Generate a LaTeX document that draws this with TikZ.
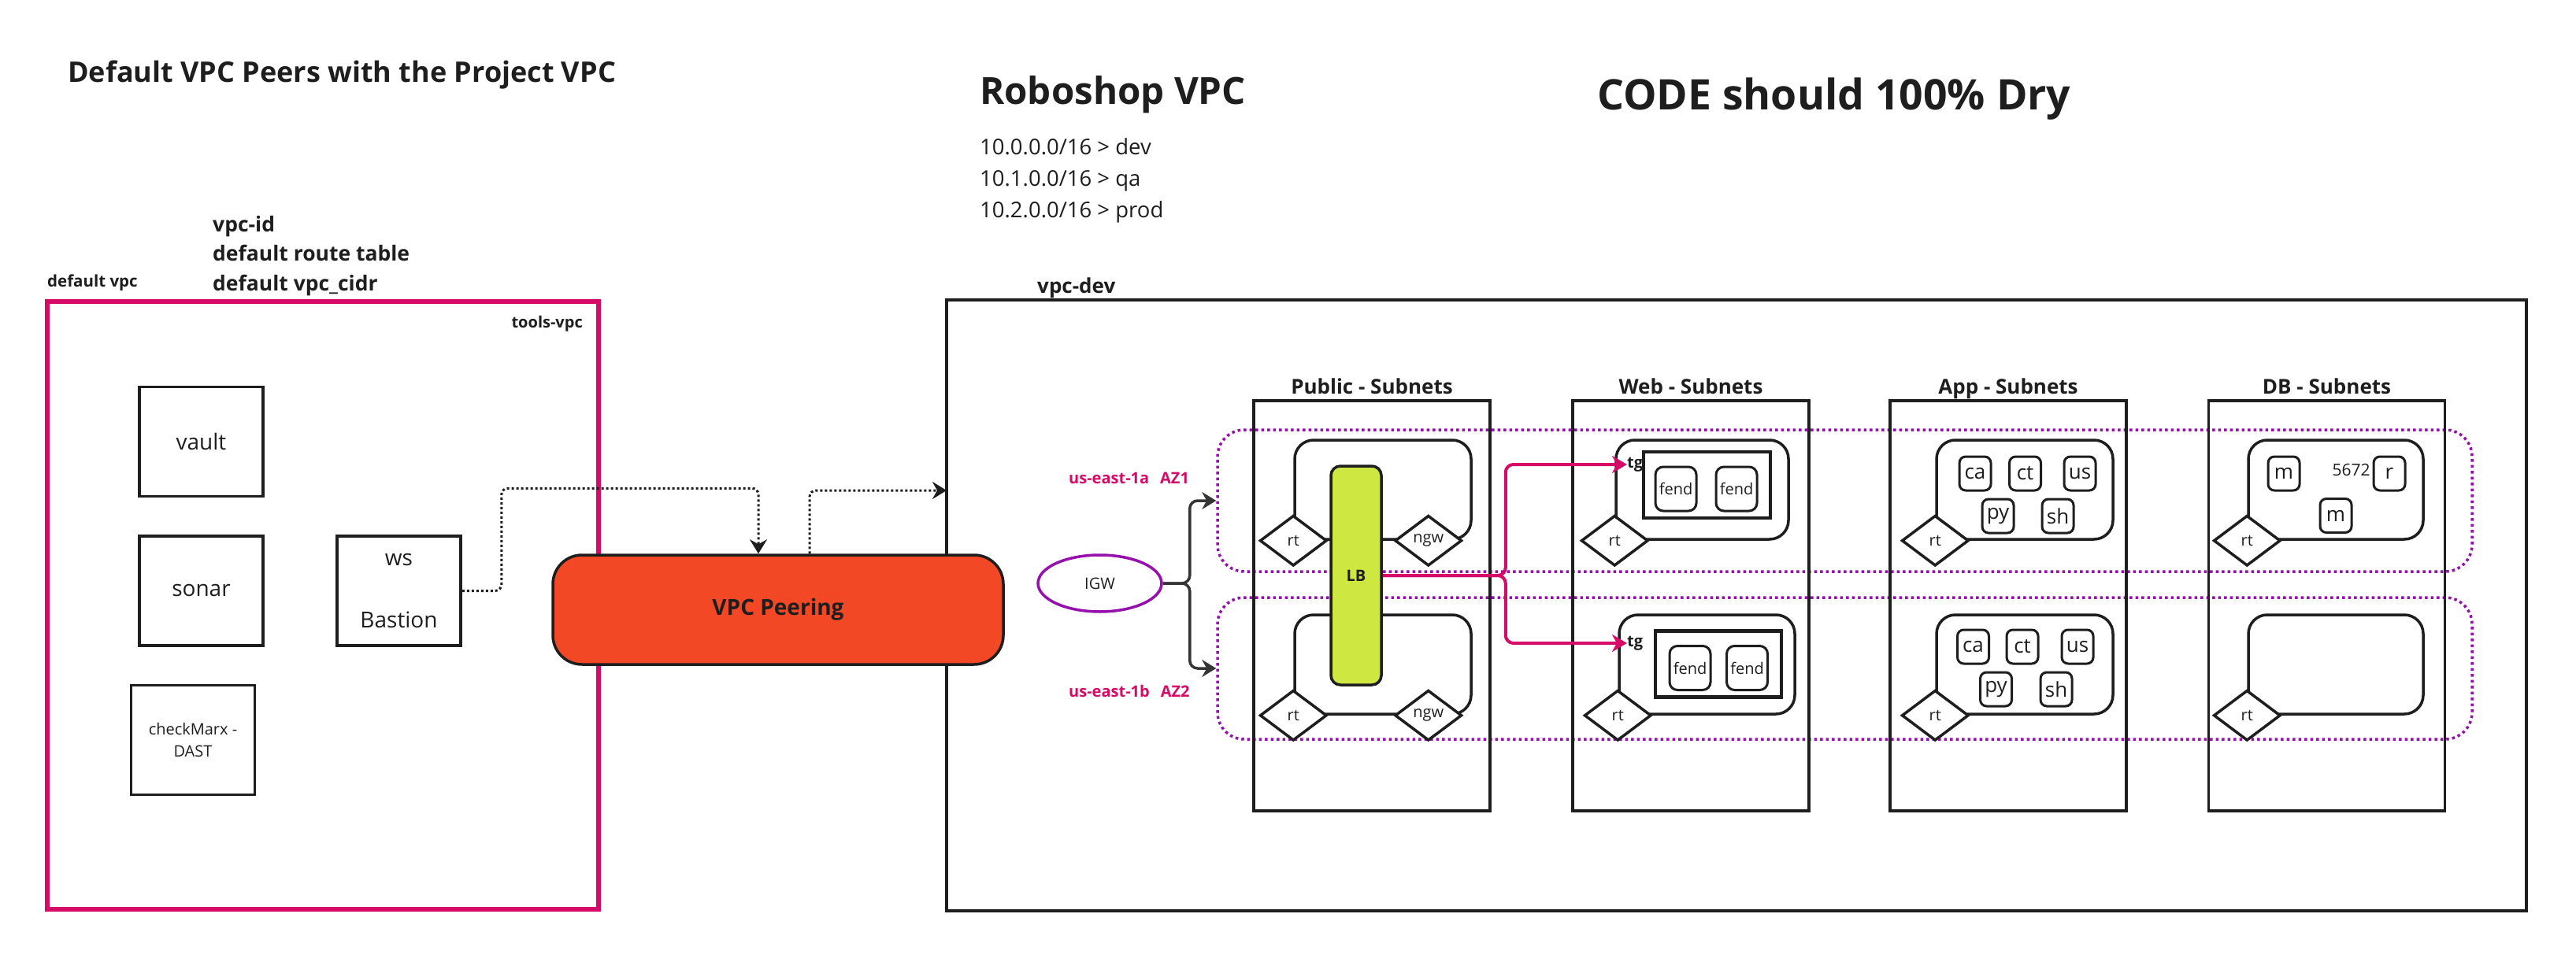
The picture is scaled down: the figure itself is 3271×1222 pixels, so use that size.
\documentclass[tikz,border=0pt]{standalone}
\usepackage{fontspec}
\setmainfont{Open Sans}
\usepackage{tikz}
\usetikzlibrary{shapes,arrows.meta,positioning}
\definecolor{rosa}{RGB}{214,11,104}
\definecolor{naranja}{RGB}{242,72,38}
\definecolor{lima}{RGB}{206,231,65}
\definecolor{violeta}{RGB}{149,16,172}
\definecolor{tinta}{RGB}{30,30,30}
\newcommand{\letra}[2]{\fontsize{#1}{#2}\selectfont}
\tikzstyle{etiqueta} = [inner sep=0pt, anchor=base west]
\tikzstyle{caja} = [draw=tinta, line width=3.5pt, minimum width=157pt, minimum height=139pt, align=center, font=\letra{28}{38}]
\tikzstyle{subred} = [draw=tinta, line width=3.5pt, minimum width=300pt, minimum height=521pt]
\tikzstyle{titulo} = [inner sep=0pt, anchor=base, font=\bfseries\letra{26}{30}]
\tikzstyle{zona} = [draw=violeta, line width=3.5pt, rounded corners=34pt, dash pattern=on 3.5pt off 4pt, minimum width=1593pt, minimum height=180pt]
\tikzstyle{grupo} = [draw=tinta, line width=3.5pt, rounded corners=24pt, minimum width=224pt, minimum height=126pt]
\tikzstyle{ruta} = [diamond, draw=tinta, fill=white, line width=3.5pt, minimum width=85pt, minimum height=64pt, inner sep=0pt, font=\letra{20}{24}]
\tikzstyle{micro} = [draw=tinta, fill=white, line width=3pt, rounded corners=8pt, minimum width=40pt, minimum height=43pt, inner sep=0pt, font=\letra{26}{30}]
\tikzstyle{servicio} = [draw=tinta, line width=3pt, rounded corners=10pt, minimum width=52pt, minimum height=56pt, inner sep=0pt, font=\letra{20}{24}]
\tikzstyle{tgcaja} = [draw=tinta, line width=4.5pt, minimum width=161pt, minimum height=84pt]
\tikzstyle{zonatexto} = [inner sep=0pt, anchor=base west, text=rosa, font=\bfseries\letra{20}{24}]
\tikzstyle{punteado} = [draw=tinta, line width=3pt, dash pattern=on 3pt off 3pt, rounded corners=8pt, -{Stealth[length=18pt,width=22pt,inset=6pt]}]
\tikzstyle{flecha} = [draw=tinta!90, line width=3.5pt, rounded corners=10pt, -{Stealth[length=18pt,width=22pt,inset=6pt]}]
\tikzstyle{rosaflecha} = [draw=rosa, line width=4pt, rounded corners=10pt, -{Stealth[length=19pt,width=22pt,inset=6pt]}]

\begin{document}
\begin{tikzpicture}[x=1pt, y=-1pt, tinta]
	\fill[white] (0,0) rectangle (3271,1222);
	\useasboundingbox (0,0) rectangle (3271,1222);

	\node[etiqueta, font=\bfseries\letra{36}{40}] (titulo) at (86,105) {Default VPC Peers with the Project VPC};
	\node[etiqueta, font=\bfseries\letra{26.5}{30}] (dato1) at (270,295) {vpc-id};
	\node[etiqueta, font=\bfseries\letra{26.5}{30}] (dato2) at (270,332) {default route table};
	\node[etiqueta, font=\bfseries\letra{26.5}{30}] (dato3) at (270,370) {default vpc\_cidr};
	\node[etiqueta, font=\bfseries\letra{20.5}{24}] (defecto) at (60,365) {default vpc};

	\node[etiqueta, font=\bfseries\letra{47.5}{52}] (roboshop) at (1244,133) {Roboshop VPC};
	\node[etiqueta, font=\bfseries\letra{53.5}{58}] (lema) at (2028,140) {CODE should 100\% Dry};
	\node[etiqueta, font=\letra{27.5}{32}] (cidr1) at (1244,197) {10.0.0.0/16 > dev};
	\node[etiqueta, font=\letra{27.5}{32}] (cidr2) at (1244,237) {10.1.0.0/16 > qa};
	\node[etiqueta, font=\letra{27.5}{32}] (cidr3) at (1244,277) {10.2.0.0/16 > prod};

	\node[draw=rosa, line width=6pt, minimum width=700pt, minimum height=772pt] (tools) at (410,769) {};
	\node[etiqueta, anchor=base east, font=\bfseries\letra{20}{24}] (toolsnombre) at (740,417) {tools-vpc};
	\node[caja] (vault) at (255.5,561) {vault};
	\node[caja] (sonar) at (255.5,750.5) {sonar};
	\node[caja] (ws) at (506.5,750.5) {ws\\[41pt]Bastion};
	\node[caja, font=\letra{20}{28}] (checkmarx) at (245,940) {checkMarx -\\DAST};

	\node[draw=tinta, line width=3.5pt, minimum width=2006pt, minimum height=776pt] (vpcdev) at (2205,769) {};
	\node[etiqueta, font=\bfseries\letra{26}{30}] (vpcnombre) at (1317,373) {vpc-dev};
	\coordinate (entrada) at (1202,623);

	\node[zona] (az1) at (2342.5,636) {};
	\node[zona] (az2) at (2342.5,849) {};
	\node[zonatexto] (az1texto) at (1357,614) {us-east-1a\hspace{14pt}AZ1};
	\node[zonatexto] (az2texto) at (1357,885) {us-east-1b\hspace{14pt}AZ2};

	\node[subred] (pub) at (1742,769.5) {};
	\node[subred] (web) at (2147,769.5) {};
	\node[subred] (app) at (2550,769.5) {};
	\node[subred] (db) at (2954.5,769.5) {};
	\node[titulo] (pubtitulo) at (1742,500) {Public - Subnets};
	\node[titulo] (webtitulo) at (2147,500) {Web - Subnets};
	\node[titulo] (apptitulo) at (2550,500) {App - Subnets};
	\node[titulo] (dbtitulo) at (2954.5,500) {DB - Subnets};

	\node[grupo] (pubA) at (1756,622) {};
	\node[grupo] (pubB) at (1756,844) {};
	\node[ruta] (pubArt) at (pubA.south west) {rt};
	\node[ruta] (pubAngw) at ([xshift=-56pt]pubA.south east) {ngw};
	\node[ruta] (pubBrt) at (pubB.south west) {rt};
	\node[ruta] (pubBngw) at ([xshift=-56pt]pubB.south east) {ngw};
	\node[draw=tinta, fill=lima, line width=3.5pt, rounded corners=12pt, minimum width=64pt, minimum height=278pt, font=\bfseries\letra{20}{24}] (lb) at (1722,731) {LB};

	\node[grupo, minimum width=219pt] (webA) at (2161.5,622) {};
	\node[ruta] (webArt) at (webA.south west) {rt};
	\node[tgcaja] (tgA) at (2167.5,616) {};
	\node[servicio] (fendA1) at (2128,621) {fend};
	\node[servicio] (fendA2) at (2205,621) {fend};
	\node[etiqueta, anchor=west, font=\bfseries\letra{20}{24}] (tg1) at (2066,590) {tg};
	\node[grupo, minimum width=223pt] (webB) at (2167.5,844) {};
	\node[ruta] (webBrt) at (webB.south west) {rt};
	\node[tgcaja, minimum width=160pt] (tgB) at (2182,843.5) {};
	\node[servicio] (fendB1) at (2146,848.5) {fend};
	\node[servicio] (fendB2) at (2218.5,848.5) {fend};
	\node[etiqueta, anchor=west, font=\bfseries\letra{20}{24}] (tg2) at (2066,817) {tg};

	\node[grupo] (appA) at (2571,622) {};
	\node[ruta] (appArt) at (appA.south west) {rt};
	\node[micro] (caA) at (2508,601.5) {ca};
	\node[micro] (ctA) at (2571.5,601.5) {ct};
	\node[micro] (usA) at (2641,601.5) {us};
	\node[micro] (pyA) at (2537,655.5) {py};
	\node[micro] (shA) at (2613,655.5) {sh};
	\node[grupo] (appB) at (2571,844) {};
	\node[ruta] (appBrt) at (appB.south west) {rt};
	\node[micro] (caB) at (2505.5,821.5) {ca};
	\node[micro] (ctB) at (2568,821.5) {ct};
	\node[micro] (usB) at (2638,821.5) {us};
	\node[micro] (pyB) at (2534.5,875.5) {py};
	\node[micro] (shB) at (2611,875.5) {sh};

	\node[grupo, minimum width=222pt] (dbA) at (2966,622) {};
	\node[ruta] (dbArt) at (dbA.south west) {rt};
	\node[micro] (mongo) at (2900,601.5) {m};
	\node[inner sep=0pt, font=\letra{21}{24}] (puerto) at (2985.5,597) {5672};
	\node[micro] (rabbit) at (3034,601.5) {r};
	\node[micro] (mysql) at (2966,655) {m};
	\node[grupo, minimum width=222pt] (dbB) at (2966,844) {};
	\node[ruta] (dbBrt) at (dbB.south west) {rt};

	\node[ellipse, draw=violeta, line width=3.5pt, minimum width=157pt, minimum height=72pt, font=\letra{20}{24}] (igw) at (1396.5,741) {IGW};
	\draw[flecha] (igw.east) -- ++(34,0) |- (az1.west);
	\draw[flecha] (igw.east) -- ++(34,0) |- (az2.west);
	\draw[rosaflecha] (lb.east) -- ++(156,0) |- (tg1.west);
	\draw[rosaflecha] (lb.east) -- ++(156,0) |- (tg2.west);

	\node[draw=tinta, fill=naranja, line width=3.5pt, rounded corners=37pt, minimum width=572pt, minimum height=139pt, font=\bfseries\letra{28}{32}] (peering) at (988,774.5) {VPC Peering};
	\draw[punteado] (ws.east) -- ++(50,0) |- ([xshift=-25pt,yshift=83pt]peering.north) -- ([xshift=-25pt]peering.north);
	\draw[punteado] ([xshift=40pt]peering.north) |- (entrada);
\end{tikzpicture}
\end{document}
